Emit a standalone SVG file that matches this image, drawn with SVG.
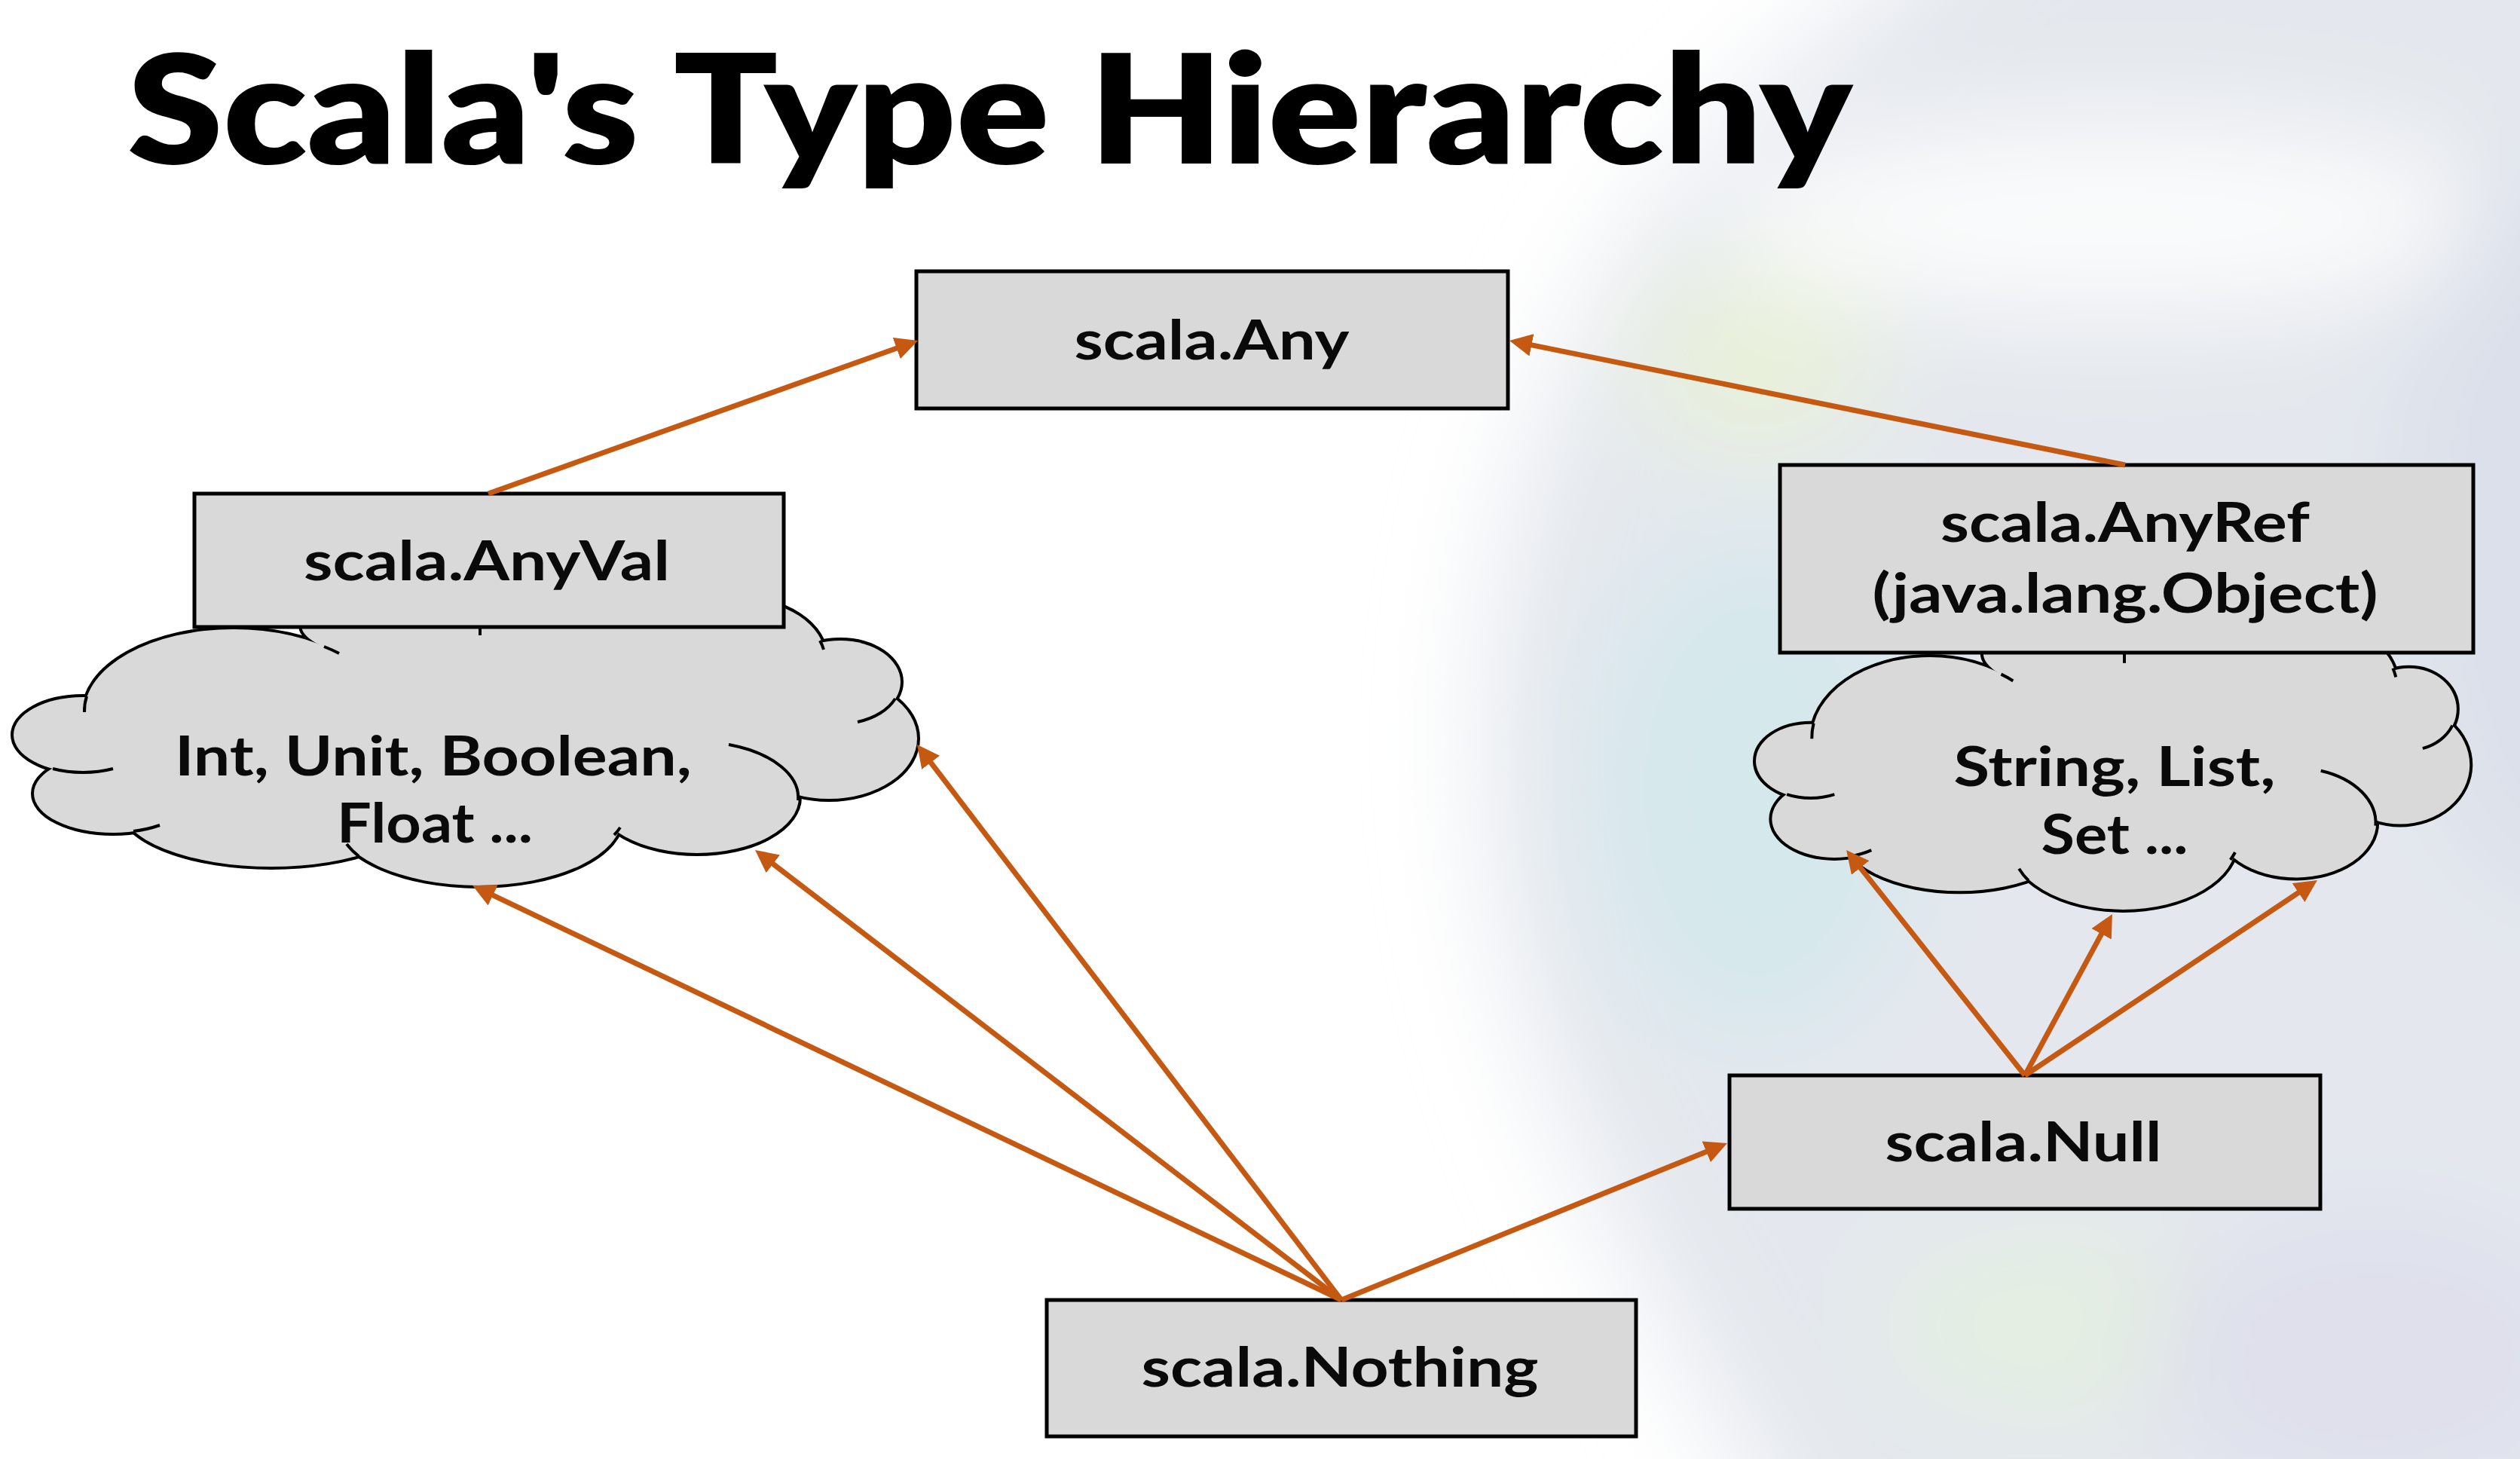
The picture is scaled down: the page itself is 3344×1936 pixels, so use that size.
<svg xmlns="http://www.w3.org/2000/svg" width="3344" height="1936" viewBox="0 0 3344 1936">
<style>
.box{fill:#d9d9d9;stroke:#000;stroke-width:5}
.lbl{font-family:Lato,"Liberation Sans",sans-serif;font-weight:700;font-size:73px;fill:#0a0a0a;text-anchor:middle}
.title{font-family:Lato,"Liberation Sans",sans-serif;font-weight:800;font-size:202px;fill:#000}
.crease{fill:none;stroke:#000;stroke-width:4;stroke-linecap:butt;vector-effect:non-scaling-stroke}
.link{fill:none;stroke:#c65911;stroke-width:7;marker-end:url(#head)}
</style>
<defs>
  <filter id="haze" filterUnits="userSpaceOnUse" x="-400" y="-400" width="4144" height="2736">
    <feGaussianBlur stdDeviation="70"/>
  </filter>
  <marker id="head" markerUnits="userSpaceOnUse" markerWidth="30" markerHeight="30" refX="10" refY="15" orient="auto">
    <path d="M0,0 L30,15 L0,30 Z" fill="#c65911"/>
  </marker>
  <!-- cloud lobes: stroked once, then filled on top so only the outer rim of the union stays -->
  <g id="lobes">
    <ellipse cx="640" cy="960" rx="400" ry="120" vector-effect="non-scaling-stroke"/>
    <ellipse cx="110" cy="975" rx="92" ry="50" vector-effect="non-scaling-stroke"/>
    <ellipse cx="150" cy="1053" rx="105" ry="52" vector-effect="non-scaling-stroke"/>
    <ellipse cx="360" cy="1070" rx="200" ry="80" vector-effect="non-scaling-stroke"/>
    <ellipse cx="635" cy="1085" rx="190" ry="90" vector-effect="non-scaling-stroke"/>
    <ellipse cx="925" cy="1058" rx="135" ry="74" vector-effect="non-scaling-stroke"/>
    <ellipse cx="1100" cy="980" rx="117" ry="80" vector-effect="non-scaling-stroke"/>
    <ellipse cx="1115" cy="905" rx="80" ry="55" vector-effect="non-scaling-stroke"/>
    <ellipse cx="975" cy="872" rx="120" ry="78" vector-effect="non-scaling-stroke"/>
    <ellipse cx="650" cy="830" rx="250" ry="60" vector-effect="non-scaling-stroke"/>
    <ellipse cx="310" cy="945" rx="198" ry="110" vector-effect="non-scaling-stroke"/>
  </g>
  <g id="cloud">
    <use href="#lobes" fill="none" stroke="#000" stroke-width="8"/>
    <use href="#lobes" fill="#d9d9d9" stroke="none"/>
    <path class="crease" d="M115,924 A198,110 0 0 0 112,945"/>
    <path class="crease" d="M70,1020 A92,50 0 0 0 150,1020"/>
    <path class="crease" d="M177,1103 A105,52 0 0 0 212,1095"/>
    <path class="crease" d="M476,1136 A190,90 0 0 1 460,1120"/>
    <path class="crease" d="M815,1108 A190,90 0 0 0 823,1098"/>
    <path class="crease" d="M1059,1062 A135,74 0 0 0 967,988"/>
    <path class="crease" d="M1188,927 A80,55 0 0 1 1138,958"/>
    <path class="crease" d="M1088,850 A120,78 0 0 1 1093,862"/>
    <path class="crease" d="M430,858 A198,110 0 0 1 450,867"/>
    <path class="crease" d="M637,828 L637,843"/>
  </g>
</defs>

<!-- backdrop: white slide with a soft tinted wash on the right -->
<rect x="0" y="0" width="3344" height="1936" fill="#ffffff"/>
<g filter="url(#haze)">
  <path d="M2300,150 C2050,400 1920,800 1990,1200 C2050,1550 2250,1800 2400,2100 L3700,2100 L3700,-200 L2700,-200 Z" fill="#e4e8ee"/>
  <ellipse cx="2800" cy="290" rx="520" ry="120" fill="#fbfcfc"/>
  <ellipse cx="2330" cy="480" rx="160" ry="120" fill="#e8f1d9"/>
  <ellipse cx="2330" cy="1050" rx="220" ry="330" fill="#d5e8ec"/>
  <ellipse cx="2750" cy="1760" rx="250" ry="110" fill="#e4efe0"/>
  <ellipse cx="3150" cy="1800" rx="300" ry="200" fill="#dfe0ec"/>
  <ellipse cx="3400" cy="700" rx="220" ry="500" fill="#dbe0ea"/>
</g>

<text class="title" x="169" y="217" textLength="2289" lengthAdjust="spacingAndGlyphs">Scala's Type Hierarchy</text>

<g id="node-value-types">
  <use href="#cloud"/>
  <text class="lbl" x="575" y="1029" textLength="686" lengthAdjust="spacingAndGlyphs">Int, Unit, Boolean,</text>
  <text class="lbl" x="577" y="1118" textLength="260" lengthAdjust="spacingAndGlyphs">Float ...</text>
</g>

<g id="node-reference-types">
  <use href="#cloud" transform="matrix(0.79 0 0 0.985 2315.8 49.5)"/>
  <text class="lbl" x="2806" y="1043" textLength="427" lengthAdjust="spacingAndGlyphs">String, List,</text>
  <text class="lbl" x="2806" y="1133" textLength="195" lengthAdjust="spacingAndGlyphs">Set ...</text>
</g>

<g id="node-any">
  <rect class="box" x="1216" y="360" width="785" height="182"/>
  <text class="lbl" x="1608" y="477" textLength="365" lengthAdjust="spacingAndGlyphs">scala.Any</text>
</g>

<g id="node-anyval">
  <rect class="box" x="258" y="655" width="782" height="177"/>
  <text class="lbl" x="646" y="770" textLength="486" lengthAdjust="spacingAndGlyphs">scala.AnyVal</text>
</g>

<g id="node-anyref">
  <rect class="box" x="2362" y="617" width="920" height="249"/>
  <text class="lbl" x="2820" y="719" textLength="490" lengthAdjust="spacingAndGlyphs">scala.AnyRef</text>
  <text class="lbl" x="2820" y="813" textLength="671" lengthAdjust="spacingAndGlyphs">(java.lang.Object)</text>
</g>

<g id="node-null">
  <rect class="box" x="2295" y="1427" width="784" height="177"/>
  <text class="lbl" x="2685" y="1541" textLength="367" lengthAdjust="spacingAndGlyphs">scala.Null</text>
</g>

<g id="node-nothing">
  <rect class="box" x="1389" y="1725" width="782" height="181"/>
  <text class="lbl" x="1778" y="1840" textLength="527" lengthAdjust="spacingAndGlyphs">scala.Nothing</text>
</g>

<g id="connectors">
  <line class="link" x1="648" y1="655" x2="1199.2" y2="458.7"/>
  <line class="link" x1="2820" y1="617" x2="2022.6" y2="455.9"/>
  <line class="link" x1="1780" y1="1725" x2="645.1" y2="1183.6"/>
  <line class="link" x1="1780" y1="1725" x2="1017.9" y2="1140.2"/>
  <line class="link" x1="1780" y1="1725" x2="1229.1" y2="1003.9"/>
  <line class="link" x1="1780" y1="1725" x2="2273.5" y2="1524.5"/>
  <line class="link" x1="2687" y1="1427" x2="2462.5" y2="1143.6"/>
  <line class="link" x1="2687" y1="1427" x2="2793.4" y2="1230.5"/>
  <line class="link" x1="2687" y1="1427" x2="3058.3" y2="1179"/>
</g>
</svg>
